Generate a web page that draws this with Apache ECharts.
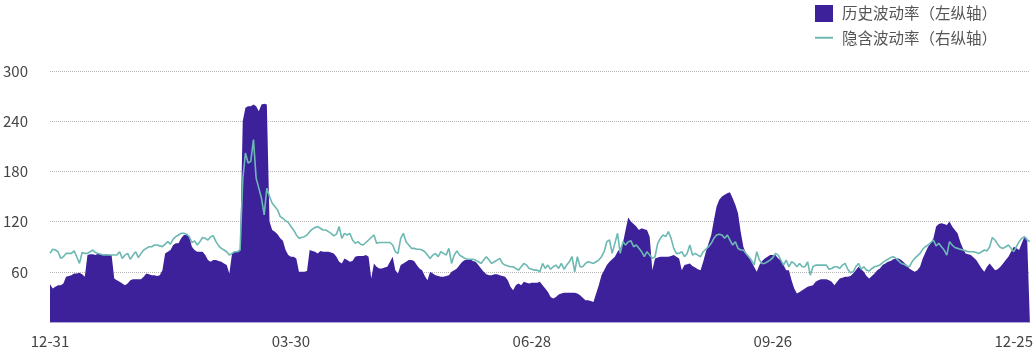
<!DOCTYPE html>
<html>
<head>
<meta charset="utf-8">
<script src="https://cdn.jsdelivr.net/npm/echarts@6/dist/echarts.min.js"></script>
<style>
    html, body { margin: 0; padding: 0; background: #fff; }
    #echarts { width: 1036px; height: 354px; }
</style>
</head>
<body>
<div id="echarts"></div>
<script>
// 日期 2019-12-31 ~ 2020-12-31
var dates = [];
for (var d = 0; d < 367; d++) {
    var t = new Date(Date.UTC(2019, 11, 31 + d));
    var mm = ('0' + (t.getUTCMonth() + 1)).slice(-2);
    var dd = ('0' + t.getUTCDate()).slice(-2);
    dates.push(mm + '-' + dd);
}

var yTicks = [60, 120, 180, 240, 300];

// 历史波动率（左纵轴）
var hvData = [
    45,40,42,44,44,46,54,55,56,58,
    58,59,57,54,80,81,81,80,82,81,
    80,81,80,80,52,50,48,46,44,46,
    50,51,51,51,51,54,58,57,56,56,
    55,56,62,82,84,86,92,94,94,100,
    104,104,102,90,86,84,84,84,80,74,
    72,74,74,73,72,70,68,58,82,84,
    84,86,240,256,258,258,260,258,252,260,
    261,260,120,110,108,105,100,97,86,80,
    78,78,76,60,60,60,61,86,85,84,
    82,85,84,84,84,83,82,78,72,70,
    76,74,72,73,78,79,79,79,80,78,
    52,70,66,64,64,65,66,72,78,62,
    58,68,70,72,74,74,73,68,64,62,
    55,50,60,58,56,55,54,54,55,56,
    60,62,64,68,72,74,74,75,73,72,
    68,64,60,57,56,56,57,57,56,55,
    54,50,42,38,44,46,44,48,47,46,
    47,47,47,48,44,40,36,30,28,30,
    33,34,35,35,35,35,35,34,32,29,
    26,26,25,24,34,44,56,62,68,72,
    75,78,84,88,94,110,125,120,117,114,
    110,112,111,110,102,62,76,77,78,78,
    78,78,79,80,78,76,62,68,69,70,
    67,65,63,62,72,84,94,104,122,138,
    146,150,152,154,155,148,140,130,108,90,
    82,78,72,66,60,68,73,76,78,80,
    80,80,76,74,68,62,62,50,40,34,
    36,38,40,42,43,44,48,50,51,51,
    51,50,48,44,48,52,53,54,54,55,
    58,62,66,63,60,55,52,55,58,62,
    64,68,70,72,73,75,76,76,74,71,
    68,64,62,60,62,66,76,83,90,94,
    100,114,117,118,117,116,120,114,110,106,
    96,88,82,81,80,77,74,69,64,60,
    66,70,66,62,63,66,70,74,78,84,
    90,88,86,94,102,100,3
];

// 隐含波动率（右纵轴）
var ivData = [
    82,87,86,84,76,78,82,82,82,85,
    78,70,83,82,82,84,86,83,82,81,
    80,80,80,80,80,80,84,76,80,82,
    75,80,84,77,82,86,88,90,90,92,
    92,91,90,93,96,93,99,102,104,106,
    106,105,102,95,97,92,96,101,100,98,
    102,103,96,91,88,86,84,80,82,84,
    84,86,170,202,190,192,218,172,160,148,
    128,160,150,142,138,134,126,124,121,119,
    114,110,104,100,101,102,104,108,111,113,
    114,112,110,110,108,106,103,105,114,100,
    106,104,106,98,94,96,93,92,95,98,
    101,104,94,95,95,95,95,95,92,84,
    82,100,106,96,92,88,88,87,87,86,
    84,80,76,80,82,78,84,82,80,88,
    70,80,85,80,78,76,75,75,75,74,
    72,70,74,78,74,70,72,74,76,70,
    68,67,66,66,64,62,66,70,68,64,
    63,62,62,60,70,64,68,63,66,68,
    64,70,63,68,72,78,60,78,66,66,
    70,72,71,70,72,74,78,84,96,98,
    82,94,106,82,96,92,96,97,90,92,
    88,84,78,84,80,76,78,94,100,104,
    102,108,100,88,82,82,84,78,82,92,
    80,82,80,78,84,87,90,94,100,104,
    105,104,100,104,98,92,96,88,86,86,
    82,78,74,68,84,74,70,70,72,74,
    77,82,80,74,68,74,66,72,70,66,
    70,66,66,72,56,66,68,68,68,68,
    68,63,64,66,66,64,68,70,63,59,
    60,66,70,63,66,62,61,64,66,67,
    68,71,73,75,77,78,76,73,70,69,
    67,66,72,76,79,82,87,90,92,95,
    98,91,94,90,86,80,96,92,89,88,
    87,86,85,84,84,84,83,82,84,86,
    85,90,101,98,93,89,88,90,92,88,
    84,90,96,100,102,98,96
];

var chart = echarts.init(document.getElementById('echarts'));
var font = "'Noto Sans CJK SC', 'Noto Sans', sans-serif";
var option = {
    animation: false,
    color: ['#3d219b', '#6cb8b2'],
    grid: {
        left: 50,
        right: 6,
        top: 71,
        bottom: 32
    },
    legend: {
        orient: 'vertical',
        right: 34,
        top: 0,
        itemWidth: 18,
        itemHeight: 17,
        itemGap: 8,
        textStyle: {
            fontFamily: font,
            fontSize: 15.5,
            color: '#555',
            padding: [0, 0, 0, 4]
        },
        data: [
            {name: '历史波动率（左纵轴）', icon: 'rect'},
            {name: '隐含波动率（右纵轴）', itemStyle: {opacity: 0}, lineStyle: {width: 2}}
        ]
    },
    xAxis: {
        type: 'category',
        boundaryGap: false,
        data: dates,
        axisLine: {
            lineStyle: {color: '#b3a6dc', width: 1}
        },
        axisTick: {show: false},
        splitLine: {show: false},
        axisLabel: {
            interval: 89,
            margin: 12,
            color: '#444',
            fontFamily: font,
            fontSize: 15
        }
    },
    yAxis: [{
        type: 'value',
        min: 0,
        max: yTicks[yTicks.length - 1],
        interval: yTicks[0],
        axisLine: {show: false},
        axisTick: {show: false},
        splitLine: {
            show: true,
            lineStyle: {type: 'dotted', color: '#b5b5b5', width: 1}
        },
        axisLabel: {
            margin: 22,
            color: '#444',
            fontFamily: font,
            fontSize: 15,
            formatter: function (v) {
                return v === 0 ? '' : v;
            }
        }
    }, {
        type: 'value',
        show: false,
        min: 0,
        max: yTicks[yTicks.length - 1],
        interval: yTicks[0],
        splitLine: {show: false}
    }],
    series: [{
        name: '历史波动率（左纵轴）',
        type: 'line',
        yAxisIndex: 0,
        data: hvData,
        symbol: 'none',
        lineStyle: {width: 0},
        areaStyle: {color: '#3d219b', opacity: 1},
        z: 2
    }, {
        name: '隐含波动率（右纵轴）',
        type: 'line',
        yAxisIndex: 1,
        data: ivData,
        symbol: 'none',
        lineStyle: {width: 1.6, color: '#6cb8b2'},
        z: 3
    }]
};
chart.setOption(option);
</script>
</body>
</html>
